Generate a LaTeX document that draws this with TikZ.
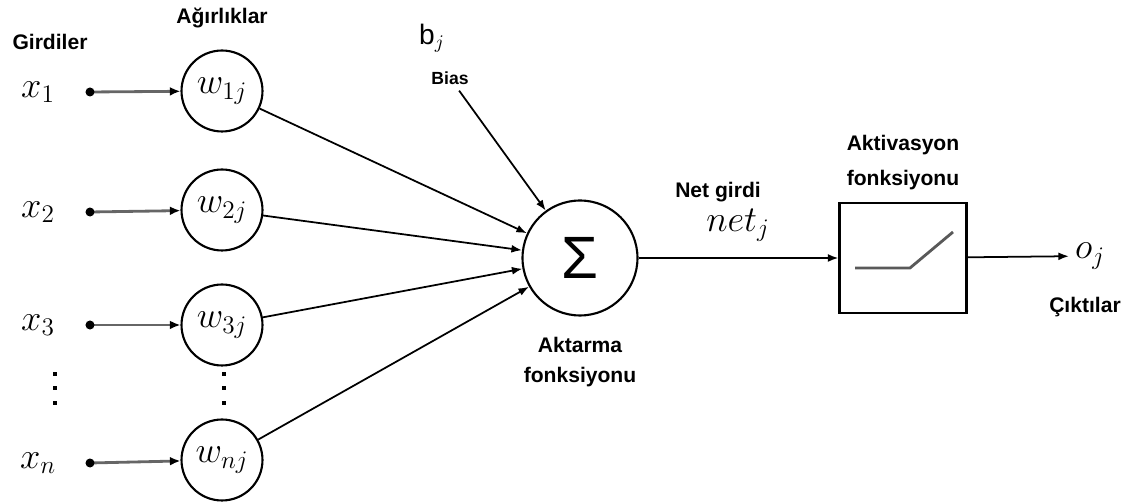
\documentclass[tikz,border=0pt]{standalone}
\usepackage{fontspec}
\setmainfont{Liberation Sans}
\usetikzlibrary{arrows.meta}

\begin{document}
\begin{tikzpicture}[x=0.02cm, y=-0.02cm,
  lbl/.style={font=\fontsize{12}{14}\selectfont\bfseries},
  sym/.style={font=\fontsize{20}{24}\selectfont},
  weight/.style={circle, draw, line width=1.2pt, minimum size=1.62cm, inner sep=0pt, font=\fontsize{20}{24}\selectfont},
  feed/.style={line width=1.6pt, black!60, {Circle[length=5pt, black]}-{Latex[length=6pt, width=5pt, black]}, shorten <=-2.5pt},
  link/.style={line width=1pt, -{Latex[length=6pt, width=4.5pt]}},
  dot/.style={fill=black, minimum size=2.8pt, inner sep=0pt, rectangle}]

\useasboundingbox (0,0) rectangle (1130,502);

% headings
\draw (50,42) node (girdi) [lbl] {Girdiler};
\draw (222,18) node (agirlik) [lbl] {Ağırlıklar};

% inputs
\draw (38,92) node (x1) [sym] {$x_1$};
\draw (38,212) node (x2) [sym] {$x_2$};
\draw (38,325) node (x3) [sym] {$x_3$};
\draw (38,463) node (xn) [sym] {$x_n$};
\coordinate (d1) at (90,92);
\coordinate (d2) at (90,212);
\coordinate (d3) at (90,325);
\coordinate (dn) at (90,463);

% weights
\draw (222,91) node (w1) [weight] {$w_{1j}$};
\draw (222,210) node (w2) [weight] {$w_{2j}$};
\draw (222,325) node (w3) [weight] {$w_{3j}$};
\draw (222,460) node (wn) [weight] {$w_{nj}$};

% vertical ellipses
\draw (55,374) node (vx1) [dot] {};
\draw (55,388) node (vx2) [dot] {};
\draw (55,403) node (vx3) [dot] {};
\draw (224,374) node (vw1) [dot] {};
\draw (224,388) node (vw2) [dot] {};
\draw (224,403) node (vw3) [dot] {};

\draw [feed] (d1) -- (w1);
\draw [feed] (d2) -- (w2);
\draw [feed] (d3) -- (w3);
\draw [feed] (dn) -- (wn);

% summing junction
\draw (580,258) node (sum) [circle, draw, line width=1.2pt, minimum size=2.3cm, inner sep=0pt, font=\fontsize{34}{38}\selectfont] {Σ};
\draw (580,345) node (akt) [lbl] {Aktarma};
\draw (580,377) node (aktf) [lbl] {fonksiyonu};

\draw [link] (w1) -- (sum);
\draw [link] (w2) -- (sum);
\draw [link] (w3) -- (sum);
\draw [link] (wn) -- (sum);

% bias
\draw (432,38) node (bj) [font=\fontsize{16}{18}\selectfont] {b$_j$};
\draw (450,78) node (bias) [font=\fontsize{10}{12}\selectfont\bfseries] {Bias};
\draw [link] (bias) -- (sum);

% net input
\draw (718,192) node (net) [lbl] {Net girdi};
\draw (738,225) node (netj) [sym] {$net_j$};

% activation
\draw (903,258) node (act) [rectangle, draw, line width=1.2pt, minimum width=2.54cm, minimum height=2.2cm] {};
\draw (903,145) node (aktv) [lbl] {Aktivasyon};
\draw (903,180) node (aktvf) [lbl] {fonksiyonu};
\draw [line width=1.6pt, black!65] (act.center) ++(-48,10) -- ++(55,0) -- ++(43,-36);

\draw [link] (sum) -- (act);

% output
\draw (1090,256) node (oj) [sym] {$o_j$};
\draw (1085,307) node (cikti) [lbl] {Çıktılar};
\draw [link] (act) -- (oj);

\end{tikzpicture}
\end{document}
